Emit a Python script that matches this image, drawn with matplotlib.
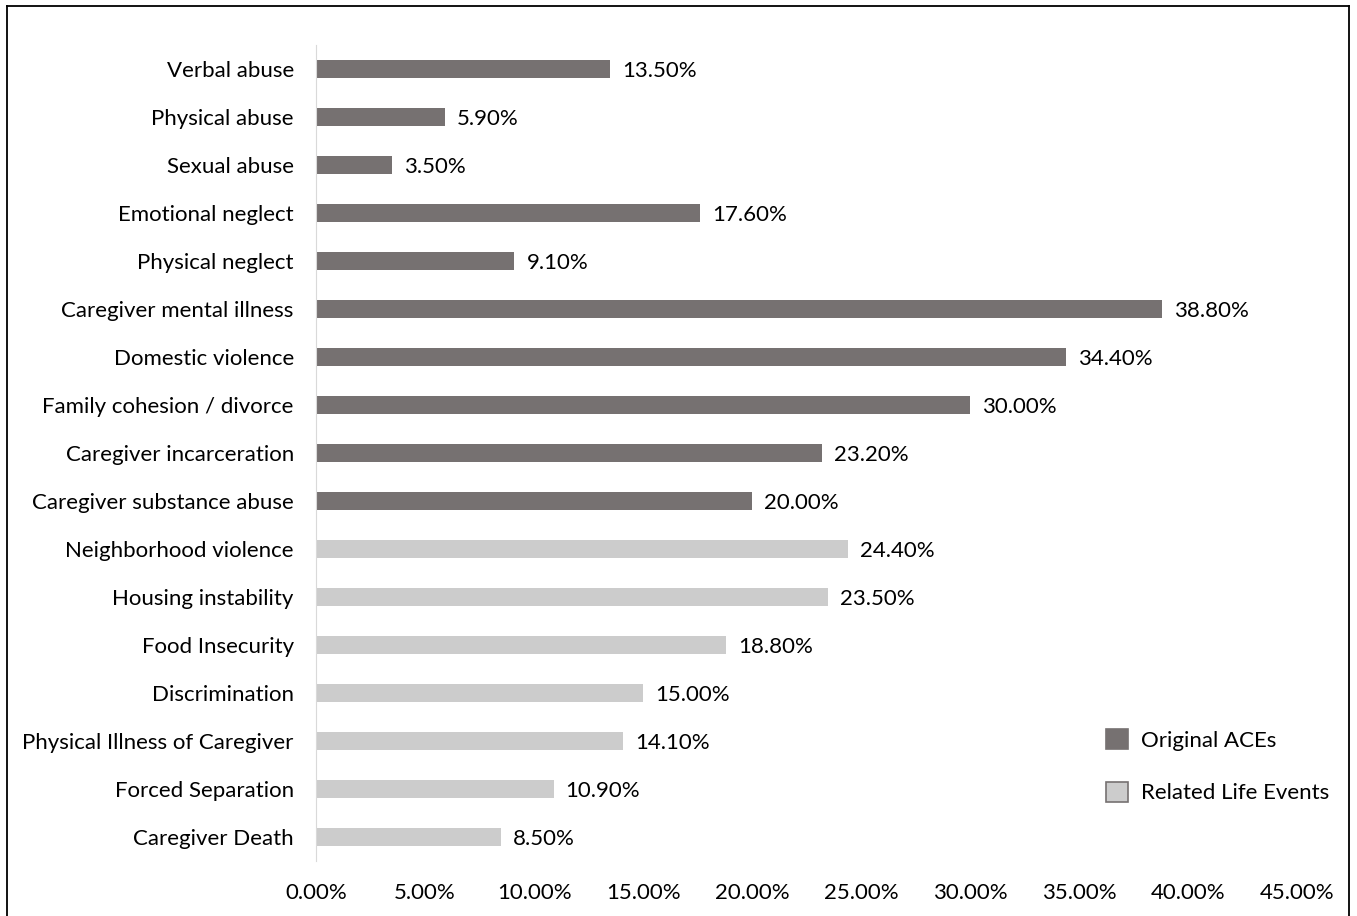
import matplotlib.pyplot as plt
from matplotlib.patches import Patch
from matplotlib.lines import Line2D

plt.rcParams['font.family'] = ['Lato', 'DejaVu Sans']

categories = ['Verbal abuse', 'Physical abuse', 'Sexual abuse', 'Emotional neglect',
              'Physical neglect', 'Caregiver mental illness', 'Domestic violence',
              'Family cohesion / divorce', 'Caregiver incarceration',
              'Caregiver substance abuse', 'Neighborhood violence', 'Housing instability',
              'Food Insecurity', 'Discrimination', 'Physical Illness of Caregiver',
              'Forced Separation', 'Caregiver Death']
values = [13.5, 5.9, 3.5, 17.6, 9.1, 38.8, 34.4, 30.0, 23.2, 20.0,
          24.4, 23.5, 18.8, 15.0, 14.1, 10.9, 8.5]
groups = ['Original ACEs'] * 10 + ['Related Life Events'] * 7
xticks = [0, 5, 10, 15, 20, 25, 30, 35, 40, 45]

colors = {'Original ACEs': '#767171', 'Related Life Events': '#cccccc'}

fig = plt.figure(figsize=(13.57, 9.16), dpi=100)
ax = fig.add_axes([0.2329, 0.060, 0.7229, 0.8909])

ypos = list(range(len(categories)))
ax.barh(ypos, values, height=0.375, color=[colors[g] for g in groups])
for y, v in zip(ypos, values):
    ax.text(v + 0.55, y, f'{v:.2f}%', va='center_baseline', ha='left', fontsize=16)

ax.set_ylim(len(categories) - 0.5, -0.5)
ax.set_xlim(0, 45)
ax.set_yticks(ypos)
ax.set_yticklabels(categories, fontsize=16)
ax.set_xticks(xticks)
ax.set_xticklabels([f'{t:.2f}%' for t in xticks], fontsize=16)
ax.tick_params(axis='y', length=0, pad=16)
ax.tick_params(axis='x', length=0, pad=16)
for s in ['top', 'right', 'bottom']:
    ax.spines[s].set_visible(False)
ax.spines['left'].set_color('#d9d9d9')

handles = [Patch(facecolor=colors[g], edgecolor='#767171' if i else colors[g], linewidth=1.2)
           for i, g in enumerate(['Original ACEs', 'Related Life Events'])]
fig.legend(handles, ['Original ACEs', 'Related Life Events'], loc='upper left',
           bbox_to_anchor=(0.8, 0.226), frameon=False, fontsize=16,
           handlelength=1.0, handleheight=1.0, labelspacing=1.4, handletextpad=0.6)

# figure border
for xs, ys in [([0.005, 0.005], [0, 0.993]), ([0.005, 0.994], [0.993, 0.993]),
               ([0.994, 0.994], [0.993, 0])]:
    fig.add_artist(Line2D(xs, ys, color='black', linewidth=1.3, transform=fig.transFigure))

fig.savefig('out.png', dpi=100)
